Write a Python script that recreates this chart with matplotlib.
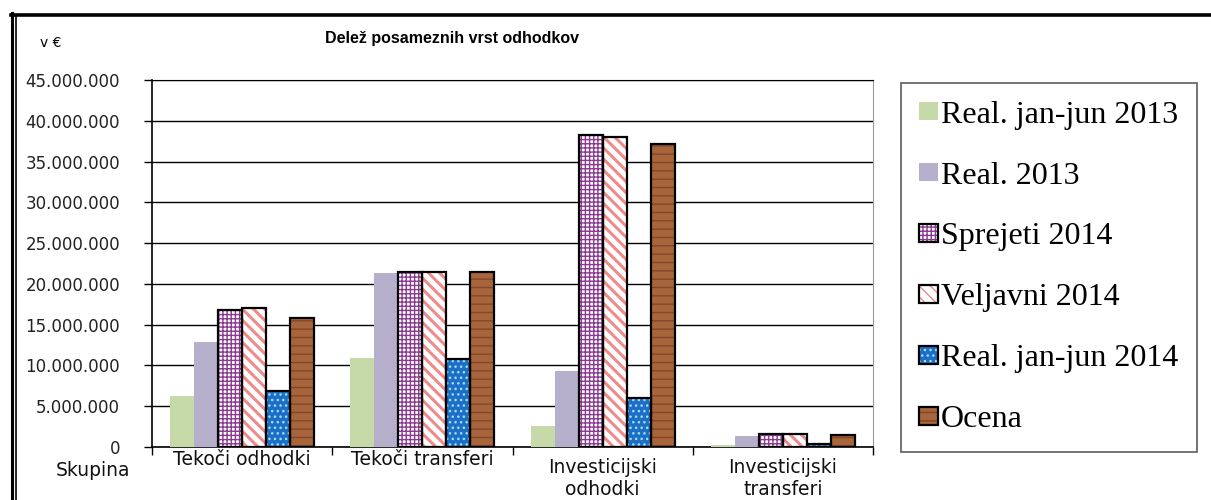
import numpy as np
import matplotlib
matplotlib.use("Agg")
import matplotlib.pyplot as plt
from matplotlib.lines import Line2D

categories = ["Tekoči odhodki", "Tekoči transferi", "Investicijski\nodhodki", "Investicijski\ntransferi"]
series = ["Real. jan-jun 2013", "Real. 2013", "Sprejeti 2014", "Veljavni 2014", "Real. jan-jun 2014", "Ocena"]
real_jj_2013 = [6300000, 10900000, 2600000, 300000]
real_2013 = [12900000, 21300000, 9300000, 1400000]
sprejeti_2014 = [16800000, 21500000, 38200000, 1550000]
veljavni_2014 = [17100000, 21500000, 38000000, 1550000]
real_jj_2014 = [6900000, 10800000, 6000000, 400000]
ocena = [15800000, 21500000, 37200000, 1500000]
yticks = np.arange(0, 45000001, 5000000)

SANS = "DejaVu Sans"
SERIF = "Liberation Serif"

fig = plt.figure(figsize=(12.11, 5.0), dpi=100)
fig.patch.set_facecolor("white")
ax = fig.add_axes([152/1211, 53/500, 721/1211, 367/500])

x = np.arange(len(categories))
w = 0.8 / 6
off = [(i - 2.5) * w for i in range(6)]

# plain bars
b0 = ax.bar(x + off[0], real_jj_2013, w, color="#c6d9a8", lw=0, zorder=3)
b1 = ax.bar(x + off[1], real_2013, w, color="#b5afcc", lw=0, zorder=3)

# hatched bars: fill+hatch first, black outline on top
hatch_specs = [
    (sprejeti_2014, off[2], "white", "#8a3a8f", "++++", 1.0),
    (veljavni_2014, off[3], "white", "#f08a8a", "\\\\\\", 2.2),
    (real_jj_2014, off[4], "#1b6fc6", "#a9dcf5", "...", 1.0),
    (ocena, off[5], "#a8643a", "#80482a", "--", 1.0),
]
handles = [b0, b1]
for vals, o, fc, hc, h, hlw in hatch_specs:
    plt.rcParams["hatch.linewidth"] = hlw
    hb = ax.bar(x + o, vals, w, facecolor=fc, edgecolor=hc, hatch=h, lw=0, zorder=3)
    ob = ax.bar(x + o, vals, w, fill=False, edgecolor="black", lw=1.6, zorder=4)
    handles.append((hb, ob))

ax.set_xlim(-0.5, 3.5)
ax.set_ylim(0, 45000000)
ax.set_yticks(yticks)
ax.set_yticklabels([f"{v:,}".replace(",", ".") for v in yticks], fontsize=12, family=SANS, color="#222222")
ax.tick_params(axis="y", length=6, width=1, pad=17)
ax.yaxis.grid(True, color="black", lw=1, zorder=0)
ax.set_axisbelow(True)

# category boundaries as tick marks, labels drawn separately
ax.set_xticks(np.arange(-0.5, 4, 1))
ax.set_xticklabels([])
ax.tick_params(axis="x", length=6, width=1, direction="out")
for s in ["left", "bottom"]:
    ax.spines[s].set_color("black")
    ax.spines[s].set_linewidth(1.2)
ax.spines["top"].set_color("black")
ax.spines["right"].set_color("#9a9a9a")

trans = ax.get_xaxis_transform()
for i, c in enumerate(categories):
    yy = -0.035 if "\n" not in c else -0.085
    ax.text(i, yy, c, transform=trans, ha="center", va="center", fontsize=13.5,
            family=SANS, color="#111111", linespacing=1.2)
ax.text(-0.03, -0.063, "Skupina", transform=ax.transAxes, ha="right", va="center",
        fontsize=13.5, family=SANS, color="#111111")

fig.text(40/1211, 1 - 43/500, "v €", fontsize=10, family=SANS, va="center", ha="left")
fig.text(452/1211, 1 - 39/500, "Delež posameznih vrst odhodkov", fontsize=11.5, family="Liberation Sans",
         weight="bold", ha="center", va="center")

leg = fig.legend(handles, series, loc="upper left",
                 bbox_to_anchor=(901/1211, 1 - 83/500 - 0.01, 296/1211, 0.01), mode="expand",
                 prop={"family": SERIF, "size": 23}, frameon=True, fancybox=False,
                 edgecolor="#333333", handlelength=0.6, handleheight=0.5, handletextpad=0.1,
                 labelspacing=1.0, borderpad=0.55, borderaxespad=0)
leg.get_frame().set_linewidth(1.2)

# outer chart border (left and top, cropped on the other sides)
fig.add_artist(Line2D([12/1211, 12/1211], [0, 1 - 13/500], transform=fig.transFigure, color="black", lw=2.2))
fig.add_artist(Line2D([15.5/1211, 15.5/1211], [0, 1 - 16/500], transform=fig.transFigure, color="black", lw=1.2))
fig.add_artist(Line2D([11/1211, 1], [1 - 14.5/500, 1 - 14.5/500], transform=fig.transFigure, color="black", lw=2.6))

fig.savefig("out.png", dpi=100, facecolor="white")
